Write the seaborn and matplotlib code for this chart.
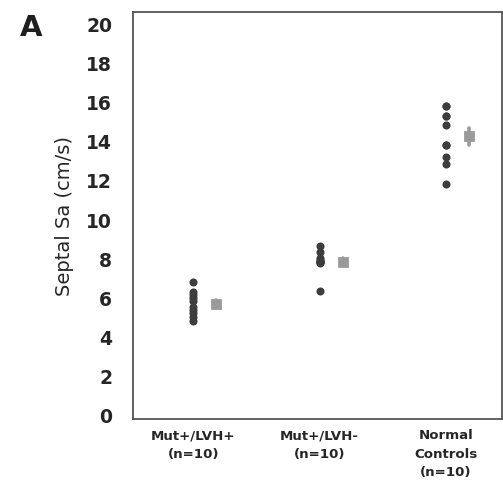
import matplotlib
matplotlib.use("Agg")
import matplotlib.pyplot as plt
import matplotlib.transforms as mtransforms
import seaborn as sns
import pandas as pd

# ---- data ----
groups = ["Mut+/LVH+\n(n=10)", "Mut+/LVH-\n(n=10)", "Normal\nControls\n(n=10)"]
mut_lvh_pos = [6.75, 6.25, 6.1, 5.95, 5.8, 5.5, 5.35, 5.2, 4.95, 4.75]
mut_lvh_neg = [8.6, 8.3, 8.0, 7.9, 7.85, 7.8, 7.8, 7.8, 7.75, 6.3]
normal_ctrl = [15.8, 15.8, 15.3, 15.3, 14.8, 13.8, 13.8, 13.2, 12.8, 11.8]
y_ticks = [0, 2, 4, 6, 8, 10, 12, 14, 16, 18, 20]

df = pd.DataFrame({
    "group": [groups[0]] * len(mut_lvh_pos) + [groups[1]] * len(mut_lvh_neg) + [groups[2]] * len(normal_ctrl),
    "value": mut_lvh_pos + mut_lvh_neg + normal_ctrl,
})

sns.set_style("white")
plt.rcParams["font.family"] = ["DejaVu Sans"]

fig = plt.figure(figsize=(5.03, 4.89), dpi=100)
ax = fig.add_axes([133 / 503, 1 - 419.5 / 489, (502 - 133) / 503, (419.5 - 12.7) / 489])

sns.stripplot(data=df, x="group", y="value", order=groups, jitter=False,
              color="#3d3d3d", size=5.8, linewidth=0, ax=ax)

n_lines = len(ax.lines)
n_coll = len(ax.collections)
sns.pointplot(data=df, x="group", y="value", order=groups, errorbar="se",
              linestyle="none", marker="s", markersize=5.2, color="#9a9a9a",
              err_kws={"linewidth": 2.6}, ax=ax)
shift = mtransforms.offset_copy(ax.transData, fig=fig, x=16.5, y=0, units="points")
for ln in ax.lines[n_lines:]:
    ln.set_transform(shift)
for c in ax.collections[n_coll:]:
    c.set_transform(shift)
    c.set_offset_transform(shift)

ax.set_xlim(-0.477, 2.444)
ax.set_ylim(-0.23, 20.63)
ax.set_yticks(y_ticks)
ax.set_yticklabels([str(t) for t in y_ticks])
ax.tick_params(axis="y", length=0, pad=15, labelsize=13.5, labelcolor="#262626")
ax.tick_params(axis="x", length=0, pad=7, labelsize=9.6, labelcolor="#262626")
for lab in ax.get_yticklabels():
    lab.set_fontweight("bold")
for lab in ax.get_xticklabels():
    lab.set_fontweight("bold")
    lab.set_linespacing(1.55)
    lab.set_verticalalignment("top")

ax.set_xlabel("")
ax.set_ylabel("Septal Sa (cm/s)", fontsize=14, color="#262626", labelpad=9)

for sp in ax.spines.values():
    sp.set_visible(True)
    sp.set_color("#555555")
    sp.set_linewidth(1.3)

fig.text(20 / 503, 1 - 27.5 / 489, "A", fontsize=21, fontweight="bold",
         color="#1e1e1e", va="center", ha="left")

fig.savefig("out.png", dpi=100, facecolor="white")
